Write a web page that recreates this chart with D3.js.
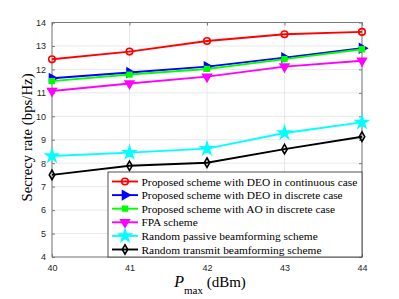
<!DOCTYPE html>
<meta charset="utf-8">
<style>
body { margin: 0; background: #fff; }
.tick text { font-family: "Liberation Sans", Arial, sans-serif; font-size: 9px; fill: #262626; }
.lgd { font-family: "Liberation Serif", "Times New Roman", serif; font-size: 11.4px; fill: #000; }
</style>
<svg width="399" height="299"></svg>
<script src="https://d3js.org/d3.v7.min.js"></script>
<script>
var pmax = [40, 41, 42, 43, 44];
var yTicks = [4, 5, 6, 7, 8, 9, 10, 11, 12, 13, 14];

var deoCont = [12.43, 12.76, 13.21, 13.5, 13.6];
var deoDisc = [11.62, 11.87, 12.12, 12.5, 12.9];
var aoDisc = [11.5, 11.78, 12.02, 12.44, 12.86];
var fpa = [11.08, 11.4, 11.69, 12.12, 12.37];
var randPassive = [8.31, 8.45, 8.62, 9.29, 9.74];
var randTransmit = [7.5, 7.89, 8.02, 8.6, 9.13];

var names = [
  "Proposed scheme with DEO in continuous case",
  "Proposed scheme with DEO in discrete case",
  "Proposed scheme with AO in discrete case",
  "FPA scheme",
  "Random passive beamforming scheme",
  "Random transmit beamforming scheme"
];

var series = [
  {name: names[0], values: deoCont, color: "#ff0000", marker: "circle"},
  {name: names[1], values: deoDisc, color: "#0000ff", marker: "triRight"},
  {name: names[2], values: aoDisc, color: "#00ff00", marker: "square"},
  {name: names[3], values: fpa, color: "#ff00ff", marker: "triDown"},
  {name: names[4], values: randPassive, color: "#00ffff", marker: "star"},
  {name: names[5], values: randTransmit, color: "#000000", marker: "diamond"}
];

var svg = d3.select("svg");
var pLeft = 52, pRight = 362, pTop = 22.5, pBottom = 257;

var x = d3.scaleLinear().domain([40, 44]).range([pLeft, pRight]);
var y = d3.scaleLinear().domain([4, 14]).range([pBottom, pTop]);

// grid
svg.append("g").selectAll("line").data(pmax).enter().append("line")
  .attr("x1", d => x(d)).attr("x2", d => x(d))
  .attr("y1", pTop).attr("y2", pBottom)
  .attr("stroke", "#e3e3e3").attr("stroke-width", 0.8);
svg.append("g").selectAll("line").data(yTicks).enter().append("line")
  .attr("x1", pLeft).attr("x2", pRight)
  .attr("y1", d => y(d)).attr("y2", d => y(d))
  .attr("stroke", "#e3e3e3").attr("stroke-width", 0.8);

// axes
var xAxis = svg.append("g").attr("transform", "translate(0," + pBottom + ")")
  .call(d3.axisBottom(x).tickValues(pmax).tickFormat(d3.format("d")).tickSizeInner(-3).tickSizeOuter(0).tickPadding(8));
var yAxis = svg.append("g").attr("transform", "translate(" + pLeft + ",0)")
  .call(d3.axisLeft(y).tickValues(yTicks).tickFormat(d3.format("d")).tickSizeInner(-3).tickSizeOuter(0).tickPadding(6));
[xAxis, yAxis].forEach(a => {
  a.select(".domain").remove();
  a.selectAll(".tick line").attr("stroke", "#262626").attr("stroke-width", 0.6);
});
svg.append("g").attr("transform", "translate(" + pRight + ",0)")
  .call(d3.axisRight(y).tickValues(yTicks).tickSizeInner(-3).tickSizeOuter(0).tickFormat(""))
  .call(g => g.select(".domain").remove())
  .selectAll(".tick line").attr("stroke", "#262626").attr("stroke-width", 0.6);
svg.append("g").attr("transform", "translate(0," + pTop + ")")
  .call(d3.axisTop(x).tickValues(pmax).tickSizeInner(-3).tickSizeOuter(0).tickFormat(""))
  .call(g => g.select(".domain").remove())
  .selectAll(".tick line").attr("stroke", "#262626").attr("stroke-width", 0.6);

svg.append("rect")
  .attr("x", pLeft).attr("y", pTop)
  .attr("width", pRight - pLeft).attr("height", pBottom - pTop)
  .attr("fill", "none").attr("stroke", "#7a7a7a").attr("stroke-width", 1);

var symbols = {
  circle: {sym: d3.symbolCircle, size: 34, fill: false, rot: 0},
  triRight: {sym: d3.symbolTriangle, size: 32, fill: true, rot: 90},
  square: {sym: d3.symbolSquare, size: 22, fill: true, rot: 0},
  triDown: {sym: d3.symbolTriangle, size: 32, fill: true, rot: 180},
  star: {sym: d3.symbolStar, size: 45, fill: true, rot: 0},
  diamond: {sym: d3.symbolDiamond, size: 26, fill: false, rot: 0}
};

function drawMarker(g, s, cx, cy) {
  var m = symbols[s.marker];
  g.append("path")
    .attr("d", d3.symbol().type(m.sym).size(m.size)())
    .attr("transform", "translate(" + cx + "," + cy + ") rotate(" + m.rot + ")")
    .attr("fill", m.fill ? s.color : "none")
    .attr("stroke", s.color)
    .attr("stroke-width", 1.6);
}

var line = d3.line().x((d, i) => x(pmax[i])).y(d => y(d));

series.forEach(s => {
  var g = svg.append("g");
  g.append("path").datum(s.values)
    .attr("d", line)
    .attr("fill", "none").attr("stroke", s.color).attr("stroke-width", 1.9);
  s.values.forEach((v, i) => drawMarker(g, s, x(pmax[i]), y(v)));
});

// legend
var lx = 108, ly = 172, lw = pRight - lx, lh = pBottom - ly;
svg.append("rect")
  .attr("x", lx).attr("y", ly).attr("width", lw).attr("height", lh)
  .attr("fill", "#fff").attr("stroke", "#262626").attr("stroke-width", 0.8);
series.forEach((s, i) => {
  var ry = 181.5 + i * 13.6;
  var g = svg.append("g");
  g.append("line").attr("x1", 112).attr("x2", 138).attr("y1", ry).attr("y2", ry)
    .attr("stroke", s.color).attr("stroke-width", 1.9);
  drawMarker(g, s, 125, ry);
  g.append("text").attr("class", "lgd").attr("x", 141.5).attr("y", ry + 4).text(s.name);
});

// labels
svg.append("text")
  .attr("transform", "translate(32," + 137.5 + ") rotate(-90)")
  .attr("text-anchor", "middle")
  .attr("font-family", "Liberation Serif, Times New Roman, serif")
  .attr("font-size", 14.8)
  .text("Secrecy rate (bps/Hz)");

var xl = svg.append("text")
  .attr("x", 210).attr("y", 287)
  .attr("text-anchor", "middle")
  .attr("font-family", "Liberation Serif, Times New Roman, serif")
  .attr("font-size", 15);
xl.append("tspan").attr("font-style", "italic").attr("font-size", 16).text("P");
xl.append("tspan").attr("font-size", 11).attr("dy", 7).text("max");
xl.append("tspan").attr("dy", -7).text(" (dBm)");
</script>
